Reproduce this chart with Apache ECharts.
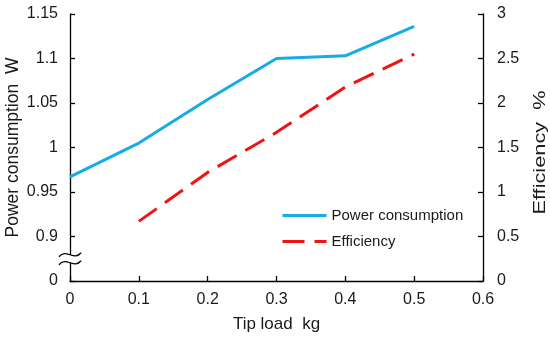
<!DOCTYPE html>
<html><head><meta charset="utf-8">
<script src="https://cdn.jsdelivr.net/npm/echarts@6/dist/echarts.min.js"></script>
<style>html,body{margin:0;padding:0;background:#fff}#c{width:550px;height:337px}</style>
</head><body><div id="c"></div>
<script>
var tipLoad = [0, 0.1, 0.2, 0.3, 0.4, 0.5];
var powerConsumption = [0.967, 1.005, 1.054, 1.100, 1.103, 1.136];
var effLoad = [0.1, 0.2, 0.3, 0.4, 0.5];
var efficiency = [0.67, 1.22, 1.67, 2.18, 2.55];
var xTicks = [0, 0.1, 0.2, 0.3, 0.4, 0.5, 0.6];
var leftTicks = ['0', '0.9', '0.95', '1', '1.05', '1.1', '1.15'];
var rightTicks = ['0', '0.5', '1', '1.5', '2', '2.5', '3'];
var rightTitle = 'Efficiency  %';

var font = 'Liberation Sans, Arial, sans-serif';
var chart = echarts.init(document.getElementById('c'));
var axisCommon = {
  axisLine: {show: true, lineStyle: {color: '#000', width: 1.3}},
  axisTick: {show: true, inside: true, length: 5, lineStyle: {color: '#000', width: 1.3}},
  splitLine: {show: false},
  nameLocation: 'middle',
  nameMoveOverlap: false,
  nameTextStyle: {fontFamily: font, fontSize: 17.5, color: '#1a1a1a'},
  axisLabel: {fontFamily: font, fontSize: 16, color: '#1a1a1a'}
};
chart.setOption({
  animation: false,
  grid: {left: 70, right: 67, top: 14, bottom: 56, containLabel: false, outerBoundsMode: 'none'},
  legend: {
    orient: 'vertical', left: 276, top: 203, itemWidth: 44, itemHeight: 14, itemGap: 11,
    itemStyle: {opacity: 0},
    lineStyle: {width: 3},
    textStyle: {fontFamily: font, fontSize: 15, color: '#1a1a1a'},
    data: ['Power consumption', 'Efficiency']
  },
  xAxis: Object.assign({}, axisCommon, {
    type: 'value', min: 0, max: 0.6, interval: 0.1,
    name: 'Tip load  kg', nameGap: 35,
    nameTextStyle: {fontFamily: font, fontSize: 17, color: '#1a1a1a'},
    axisLabel: Object.assign({}, axisCommon.axisLabel, {margin: 11, formatter: function (v) { var i = Math.round(v * 10); return String(xTicks[i]); }})
  }),
  yAxis: [
    Object.assign({}, axisCommon, {
      type: 'value', min: 0.85, max: 1.15, interval: 0.05, position: 'left',
      name: 'Power consumption  W', nameGap: 48,
      axisLabel: Object.assign({}, axisCommon.axisLabel, {margin: 12, formatter: function (v) { var i = Math.round((v - 0.85) / 0.05); return leftTicks[i]; }})
    }),
    Object.assign({}, axisCommon, {
      type: 'value', min: 0, max: 3, interval: 0.5, position: 'right',
      axisLabel: Object.assign({}, axisCommon.axisLabel, {margin: 14, formatter: function (v) { return rightTicks[Math.round(v / 0.5)]; }})
    })
  ],
  series: [
    {name: 'Power consumption', type: 'line', yAxisIndex: 0, showSymbol: false, symbol: 'none',
     lineStyle: {color: '#16ace6', width: 3}, itemStyle: {color: '#16ace6'},
     data: tipLoad.map(function (x, i) { return [x, powerConsumption[i]]; })},
    {name: 'Efficiency', type: 'line', yAxisIndex: 1, showSymbol: false, symbol: 'none',
     lineStyle: {color: '#ee1414', width: 3, type: [22, 10]}, itemStyle: {color: '#ee1414'},
     data: effLoad.map(function (x, i) { return [x, efficiency[i]]; })}
  ]
});
// axis break symbol on left axis
var p = chart.convertToPixel({xAxisIndex: 0, yAxisIndex: 0}, [0, 0.875]);
var bx = p[0], by = p[1];
var pr = chart.convertToPixel({xAxisIndex: 0, yAxisIndex: 1}, [0.6, 1.5]);
function wave(dy) {
  var y = by + dy;
  return {type: 'bezierCurve', shape: {x1: bx - 11, y1: y + 2, cpx1: bx - 4, cpy1: y - 7, cpx2: bx + 4, cpy2: y + 7, x2: bx + 11, y2: y - 2},
    style: {stroke: '#000', lineWidth: 1.3, fill: null}, z: 100};
}
chart.setOption({graphic: [
  {type: 'rect', shape: {x: bx - 3, y: by - 4, width: 6, height: 8}, style: {fill: '#fff'}, z: 99},
  wave(-4), wave(4),
  {type: 'text', x: pr[0] + 57, y: pr[1] + 5, rotation: Math.PI / 2, scaleX: 1.28,
   style: {text: rightTitle, font: '17px ' + font, fill: '#1a1a1a', align: 'center', verticalAlign: 'middle'}, z: 50}
]});
</script></body></html>
